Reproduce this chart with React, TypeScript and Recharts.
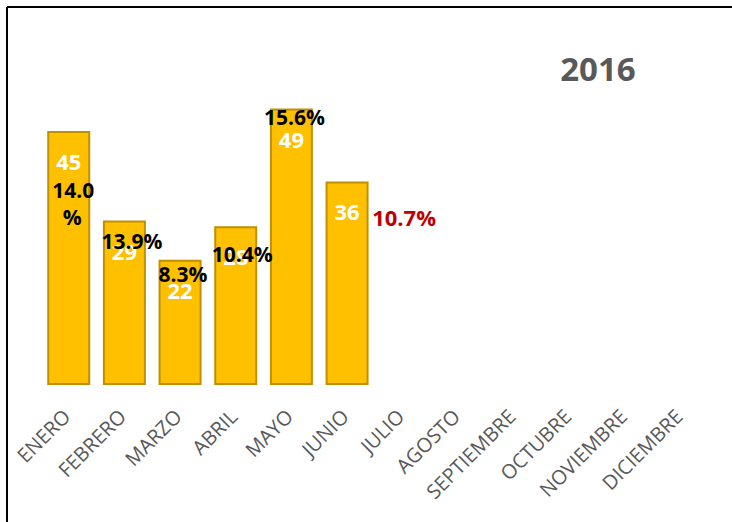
import React from "react";
import { BarChart, Bar, XAxis, YAxis, LabelList } from "recharts";

const months = [
  "ENERO", "FEBRERO", "MARZO", "ABRIL", "MAYO", "JUNIO",
  "JULIO", "AGOSTO", "SEPTIEMBRE", "OCTUBRE", "NOVIEMBRE", "DICIEMBRE",
];
const values: (number | null)[] = [45, 29, 22, 28, 49, 36, null, null, null, null, null, null];
const pctLabels: (string | null)[] = ["14.0%", "13.9%", "8.3%", "10.4%", "15.6%", "10.7%", null, null, null, null, null, null];
const title = "2016";

const data = months.map((m, i) => ({ month: m, value: values[i], pct: pctLabels[i] }));

// hand-placed percent labels, relative to bar centre / bar top
const pctPlacement = [
  { dx: 4.5, dy: 58, wrap: true },
  { dx: 7.5, dy: 19 },
  { dx: 3, dy: 13 },
  { dx: 6.5, dy: 27 },
  { dx: 3, dy: 7 },
  { dx: 57, dy: 35, red: true },
];

const FONT = "'Open Sans', sans-serif";

function ValueLabel(props: any) {
  const { x, y, width, value } = props;
  if (value == null) return null;
  return (
    <text x={x + width / 2} y={y + 29} textAnchor="middle" dominantBaseline="central"
      fill="#ffffff" fontFamily={FONT} fontWeight={700} fontSize={22}>
      {value}
    </text>
  );
}

function PctLabel(props: any) {
  const { x, y, width, value, index } = props;
  const p = pctPlacement[index];
  if (value == null || !p) return null;
  const cx = x + width / 2 + p.dx;
  const cy = y + p.dy;
  const common = {
    textAnchor: "middle" as const,
    dominantBaseline: "central" as const,
    fontFamily: FONT,
    fontWeight: 700,
    fontSize: p.red ? 22 : 21,
    fill: p.red ? "#C00000" : "#000000",
  };
  if (p.wrap) {
    const num = String(value).replace("%", "");
    return (
      <g>
        <text x={cx} y={cy} {...common}>{num}</text>
        <text x={cx - 1} y={cy + 27} {...common}>%</text>
      </g>
    );
  }
  return <text x={cx} y={cy} {...common}>{value}</text>;
}

function MonthTick(props: any) {
  const { x, y, payload } = props;
  const ax = x + 3;
  const ay = y + 34;
  return (
    <text x={ax} y={ay} textAnchor="end" transform={`rotate(-45 ${ax} ${ay})`}
      fill="#595959" fontFamily={FONT} fontSize={20}>
      {payload.value}
    </text>
  );
}

export default function App() {
  return (
    <div style={{ position: "fixed", left: 0, top: 0, width: 732, height: 522, overflow: "hidden", background: "#ffffff" }}>
      <style>{"html,body{margin:0;overflow:hidden;}"}</style>
      <svg width={732} height={522} style={{ position: "absolute", left: 0, top: 0 }}>
        <line x1={7} y1={7} x2={732} y2={7} stroke="#000" strokeWidth={2} />
        <line x1={7} y1={7} x2={7} y2={522} stroke="#000" strokeWidth={2} />
      </svg>
      <div style={{ position: "absolute", left: 0, top: 0 }}>
        <BarChart width={732} height={522} data={data}
          margin={{ top: 48, right: 23, left: 41, bottom: 38 }} barCategoryGap="13%">
          <XAxis dataKey="month" axisLine={false} tickLine={false} tickSize={0} tickMargin={0}
            interval={0} height={100} tick={(p: any) => <MonthTick {...p} />} />
          <YAxis hide domain={[0, 60]} />
          <Bar dataKey="value" fill="#FFC000" stroke="#BF9000" strokeWidth={2} isAnimationActive={false}>
            <LabelList dataKey="value" content={<ValueLabel />} />
            <LabelList dataKey="pct" content={<PctLabel />} />
          </Bar>
        </BarChart>
      </div>
      <div style={{ position: "absolute", left: 548, top: 46, width: 100, textAlign: "center", fontFamily: FONT, fontWeight: 700, fontSize: 33, color: "#595959", lineHeight: "45px" }}>
        {title}
      </div>
    </div>
  );
}
